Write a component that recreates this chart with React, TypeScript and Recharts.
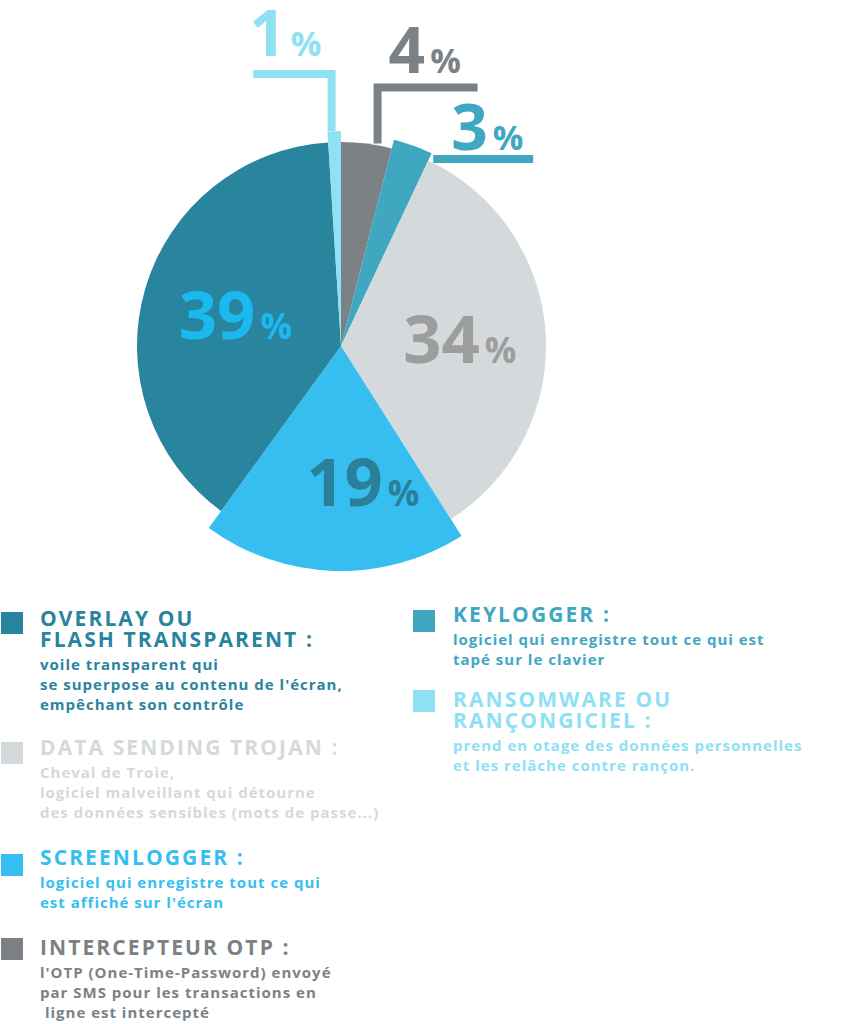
import { PieChart, Pie, Cell } from 'recharts';

// malware types, clockwise from 12 o'clock
const categories = [
  'Intercepteur OTP',
  'Keylogger',
  'Data sending trojan',
  'Screenlogger',
  'Overlay ou flash transparent',
  'Ransomware ou rançongiciel',
];
const shares = [4, 3, 34, 19, 39, 1];

const legendTitles = [
  ['INTERCEPTEUR OTP :'],
  ['KEYLOGGER :'],
  ['DATA SENDING TROJAN :'],
  ['SCREENLOGGER :'],
  ['OVERLAY OU', 'FLASH TRANSPARENT :'],
  ['RANSOMWARE OU', 'RANÇONGICIEL :'],
];
const legendTexts = [
  ["l'OTP (One-Time-Password) envoyé", 'par SMS pour les transactions en', ' ligne est intercepté'],
  ['logiciel qui enregistre tout ce qui est', 'tapé sur le clavier'],
  ['Cheval de Troie,', 'logiciel malveillant qui détourne', 'des données sensibles (mots de passe...)'],
  ['logiciel qui enregistre tout ce qui', "est affiché sur l'écran"],
  ['voile transparent qui', "se superpose au contenu de l'écran,", 'empêchant son contrôle'],
  ['prend en otage des données personnelles', 'et les relâche contre rançon.'],
];

const data = categories.map((name, i) => ({ name, value: shares[i] }));

// styling per slice
const colors = ['#7b8185', '#40a7c1', '#d4d9dc', '#37bef1', '#29849d', '#8ee0f3'];
const radii = [204, 213, 205, 225, 204, 215];
const labelColors = ['#7b8185', '#40a7c1', '#9d9d9d', '#2a809a', '#1ab9ef', '#8ee0f3'];

// inside labels: radius + nudge; callouts: line points and text offset relative to the slice tip
const labelStyles: any[] = [
  { callout: [[11, 0], [11, -56], [111, -56]], text: [22, -71] },
  { callout: [[20, 13.5], [120, 13.5]], text: [38, 4] },
  { r: 119, dx: 0 },
  { r: 136, dx: 26 },
  { r: 110, dx: 0 },
  { callout: [[-2.7, 0], [-2.7, -57], [-81, -57]], text: [-85, -75] },
];

// legend placement: [squareX, squareY, textX, headingTop]
const legendPlace: Record<number, number[]> = {
  4: [1, 612, 40, 608],
  2: [1, 742, 40, 736.5],
  3: [1, 854, 40, 846.5],
  0: [1, 938, 40, 936.5],
  1: [413, 610, 453, 603.5],
  5: [413, 690, 453, 688.5],
};

const RADIAN = Math.PI / 180;
const FONT = "'Open Sans', sans-serif";

function makeLabel(i: number) {
  return (props: any) => {
    if (props.index !== i) return null;
    const { cx, cy, midAngle, outerRadius, value } = props;
    const st = labelStyles[i];
    const cos = Math.cos(-midAngle * RADIAN);
    const sin = Math.sin(-midAngle * RADIAN);
    if (st.callout) {
      const ax = cx + outerRadius * cos;
      const ay = cy + outerRadius * sin;
      const d = st.callout.map((p: number[], k: number) => `${k ? 'L' : 'M'}${ax + p[0]},${ay + p[1]}`).join(' ');
      return (
        <g>
          <path d={d} stroke={colors[i]} strokeWidth={8} fill="none" strokeLinejoin="miter" />
          <text x={ax + st.text[0]} y={ay + st.text[1]} fill={labelColors[i]} fontFamily={FONT} fontWeight={700}>
            <tspan fontSize={64}>{value}</tspan>
            <tspan fontSize={34} dx={5}>%</tspan>
          </text>
        </g>
      );
    }
    const x = cx + st.r * cos + st.dx;
    const y = cy + st.r * sin + 24;
    return (
      <text x={x} y={y} textAnchor="middle" fill={labelColors[i]} fontFamily={FONT} fontWeight={700}>
        <tspan fontSize={67}>{value}</tspan>
        <tspan fontSize={35} dx={5}>%</tspan>
      </text>
    );
  };
}

function LegendItem({ idx }: { idx: number }) {
  const [sx, sy, tx, top] = legendPlace[idx];
  const titles = legendTitles[idx];
  return (
    <>
      <div style={{ position: 'absolute', left: sx, top: sy, width: 22, height: 22, background: colors[idx] }} />
      <div style={{ position: 'absolute', left: tx, top, color: colors[idx], fontFamily: FONT, whiteSpace: 'pre' }}>
        {titles.map((t) => (
          <div key={t} style={{ fontSize: 21, lineHeight: '21px', fontWeight: 700, letterSpacing: 2.1 }}>{t}</div>
        ))}
        <div style={{ marginTop: 4 }}>
          {legendTexts[idx].map((t) => (
            <div key={t} style={{ fontSize: 15, lineHeight: '20px', fontWeight: 700, letterSpacing: 1 }}>{t}</div>
          ))}
        </div>
      </div>
    </>
  );
}

export default function App() {
  return (
    <div style={{ position: 'absolute', left: 0, top: 0, width: 859, height: 1024, background: '#fff', overflow: 'hidden' }}>
      <PieChart width={859} height={600} margin={{ top: 0, right: 0, bottom: 0, left: 0 }}>
        {categories.map((c, i) => (
          <Pie
            key={c}
            data={data}
            dataKey="value"
            cx={341}
            cy={346}
            outerRadius={radii[i]}
            startAngle={90}
            endAngle={-270}
            stroke="none"
            label={makeLabel(i)}
            labelLine={false}
            isAnimationActive={false}
          >
            {data.map((d, j) => (
              <Cell key={d.name} fill={j === i ? colors[i] : 'none'} />
            ))}
          </Pie>
        ))}
      </PieChart>
      {[4, 2, 3, 0, 1, 5].map((idx) => (
        <LegendItem key={idx} idx={idx} />
      ))}
    </div>
  );
}
